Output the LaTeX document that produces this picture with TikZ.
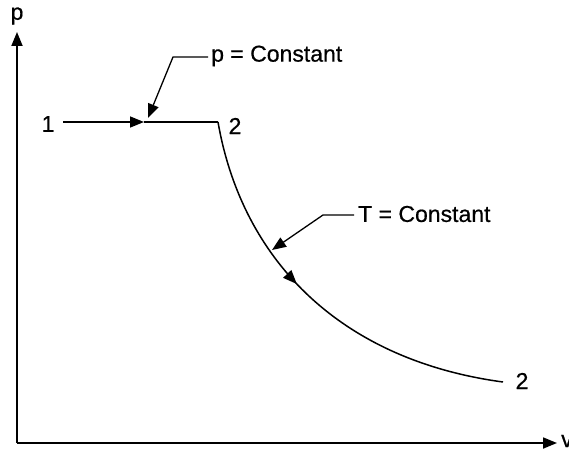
\documentclass[tikz,border=0pt]{standalone}
\usepackage{fontspec}
\setmainfont{Liberation Sans}
\newfontfamily\hv[FakeBold=0.6]{Liberation Sans}
\usetikzlibrary{arrows.meta,decorations.markings}
\begin{document}
\begin{tikzpicture}[x=1pt,y=-1pt,
  lbl/.style={inner sep=0pt,font=\hv\fontsize{23}{26}\selectfont},
  tip/.style={-{Triangle[length=14pt,width=11pt]}},
  ax/.style={line width=1.8pt,tip},
  crv/.style={line width=1.5pt},
  lead/.style={line width=1.3pt,tip}]
\useasboundingbox (0,0) rectangle (569,452);
\clip (0,0) rectangle (569,452);
% axes
\coordinate (O) at (17,443);
\coordinate (ytop) at (17,32);
\coordinate (xend) at (557,443);
\draw[ax] (O) -- (ytop);
\draw[ax] (O) -- (xend);
\node[lbl] (plab) at (17,16) {p};
\node[lbl,anchor=west] (vlab) at (561,441) {v};
% states
\coordinate (s1) at (63,122);
\coordinate (s2) at (218,122);
\coordinate (s3) at (503,382);
\coordinate (mid) at (144,122);
\node[lbl] (n1) at (48,124) {1};
\node[lbl] (n2) at (235,126) {2};
\node[lbl] (n3) at (522,381) {2};
\draw[crv,tip] (s1) -- (mid);
\draw[crv] (mid) -- (s2);
\draw[crv,decoration={markings,mark=at position 0.44 with {\arrow{Triangle[length=14pt,width=11pt]}}},postaction={decorate}]
  (s2) .. controls (242,260) and (340,360) .. (s3);
% labels
\node[lbl,anchor=west] (pc) at (211,56) {p = Constant};
\node[lbl,anchor=west] (tc) at (358,214) {T = Constant};
\coordinate (pk) at (173,57);
\coordinate (pt) at (148,118);
\coordinate (tk) at (323,215);
\coordinate (tt) at (272,250);
\draw[lead] (pc.west) ++(-3,1) -- (pk) -- (pt);
\draw[lead] (tc.west) ++(-4,1) -- (tk) -- (tt);
\end{tikzpicture}
\end{document}
